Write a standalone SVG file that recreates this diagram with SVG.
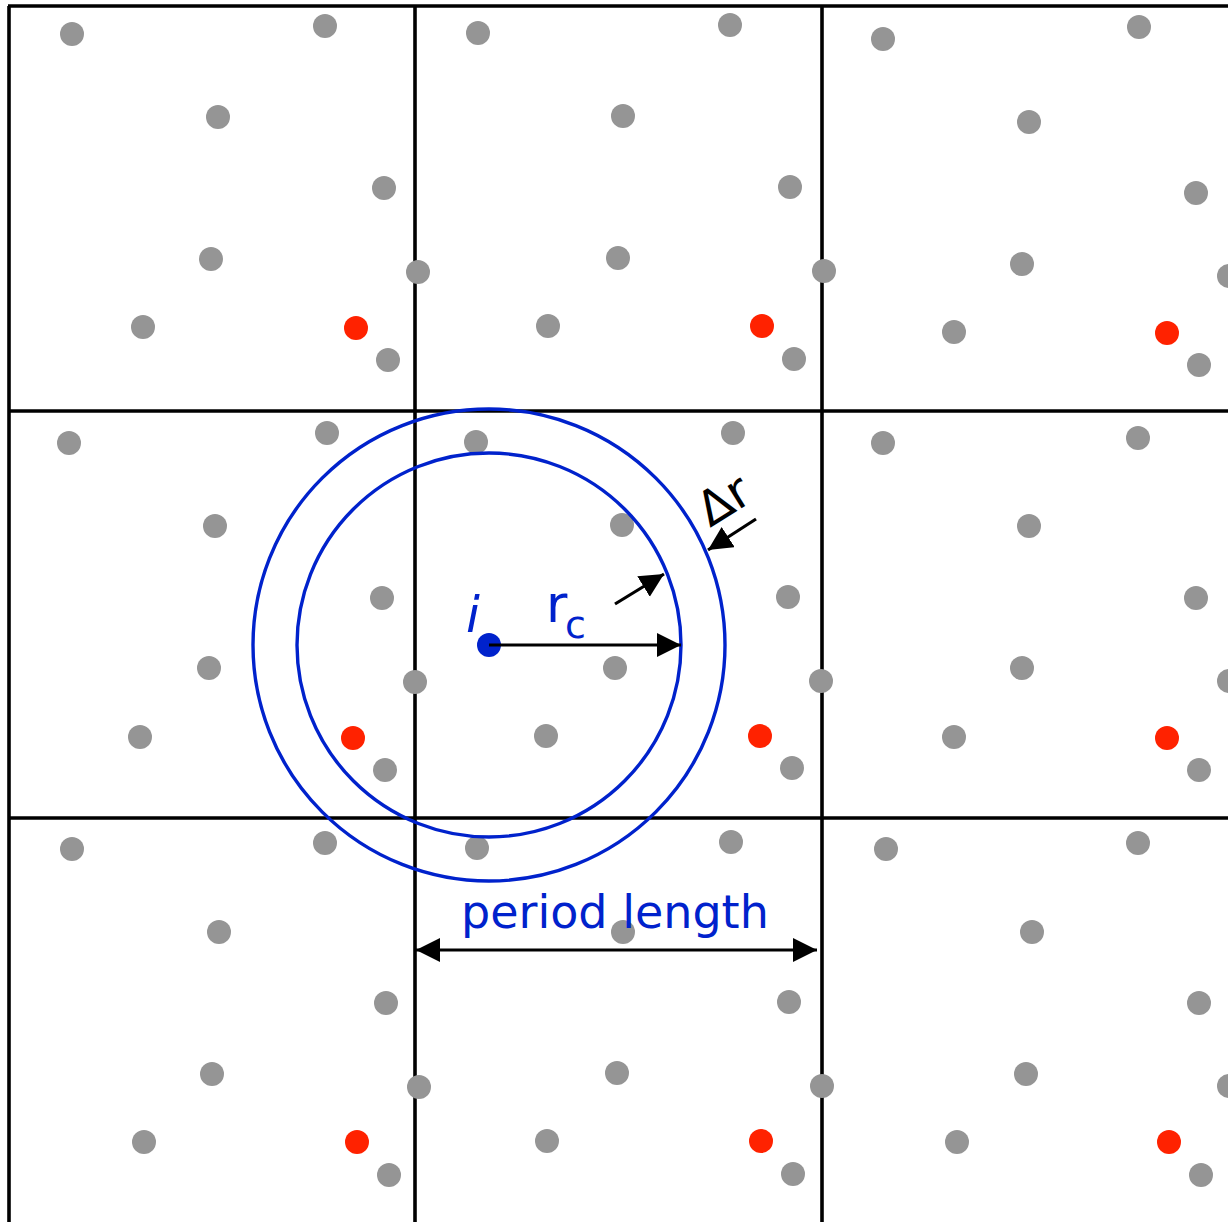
<svg xmlns="http://www.w3.org/2000/svg" width="1228" height="1222" viewBox="0 0 1228 1222">
<style>
.g{fill:#959595}
.r{fill:#ff2200}
.grid{stroke:#000;stroke-width:3.6;fill:none}
.circ{stroke:#0022cc;stroke-width:3.4;fill:none}
.arr{stroke:#000;stroke-width:3.2;fill:none}
.lbl{font-family:"DejaVu Sans",sans-serif;fill:#0022cc}
</style>
<defs>
<marker id="ah" markerUnits="userSpaceOnUse" markerWidth="26" markerHeight="26" refX="24" refY="12" orient="auto-start-reverse">
<path d="M0,0 L24,12 L0,24 z" fill="#000"/>
</marker>
</defs>
<rect width="1228" height="1222" fill="#fff"/>
<g id="grid">
<line class="grid" x1="8" y1="6" x2="1228" y2="6"/>
<line class="grid" x1="8" y1="411" x2="1228" y2="411"/>
<line class="grid" x1="8" y1="818" x2="1228" y2="818"/>
<line class="grid" x1="9" y1="6" x2="9" y2="1222"/>
<line class="grid" x1="415" y1="6" x2="415" y2="1222"/>
<line class="grid" x1="822" y1="6" x2="822" y2="1222"/>
</g>
<g id="particles">
<circle class="g" cx="72" cy="34" r="12"/><circle class="g" cx="325" cy="26" r="12"/><circle class="g" cx="218" cy="117" r="12"/><circle class="g" cx="384" cy="188" r="12"/><circle class="g" cx="211" cy="259" r="12"/><circle class="g" cx="418" cy="272" r="12"/><circle class="g" cx="143" cy="327" r="12"/><circle class="r" cx="356" cy="328" r="12"/><circle class="g" cx="388" cy="360" r="12"/>
<circle class="g" cx="478" cy="33" r="12"/><circle class="g" cx="730" cy="25" r="12"/><circle class="g" cx="623" cy="116" r="12"/><circle class="g" cx="790" cy="187" r="12"/><circle class="g" cx="618" cy="258" r="12"/><circle class="g" cx="824" cy="271" r="12"/><circle class="g" cx="548" cy="326" r="12"/><circle class="r" cx="762" cy="326" r="12"/><circle class="g" cx="794" cy="359" r="12"/>
<circle class="g" cx="883" cy="39" r="12"/><circle class="g" cx="1139" cy="27" r="12"/><circle class="g" cx="1029" cy="122" r="12"/><circle class="g" cx="1196" cy="193" r="12"/><circle class="g" cx="1022" cy="264" r="12"/><circle class="g" cx="1229" cy="276" r="12"/><circle class="g" cx="954" cy="332" r="12"/><circle class="r" cx="1167" cy="333" r="12"/><circle class="g" cx="1199" cy="365" r="12"/>
<circle class="g" cx="69" cy="443" r="12"/><circle class="g" cx="327" cy="433" r="12"/><circle class="g" cx="215" cy="526" r="12"/><circle class="g" cx="382" cy="598" r="12"/><circle class="g" cx="209" cy="668" r="12"/><circle class="g" cx="415" cy="682" r="12"/><circle class="g" cx="140" cy="737" r="12"/><circle class="r" cx="353" cy="738" r="12"/><circle class="g" cx="385" cy="770" r="12"/>
<circle class="g" cx="476" cy="442" r="12"/><circle class="g" cx="733" cy="433" r="12"/><circle class="g" cx="622" cy="525" r="12"/><circle class="g" cx="788" cy="597" r="12"/><circle class="g" cx="615" cy="668" r="12"/><circle class="g" cx="821" cy="681" r="12"/><circle class="g" cx="546" cy="736" r="12"/><circle class="r" cx="760" cy="736" r="12"/><circle class="g" cx="792" cy="768" r="12"/>
<circle class="g" cx="883" cy="443" r="12"/><circle class="g" cx="1138" cy="438" r="12"/><circle class="g" cx="1029" cy="526" r="12"/><circle class="g" cx="1196" cy="598" r="12"/><circle class="g" cx="1022" cy="668" r="12"/><circle class="g" cx="1229" cy="681" r="12"/><circle class="g" cx="954" cy="737" r="12"/><circle class="r" cx="1167" cy="738" r="12"/><circle class="g" cx="1199" cy="770" r="12"/>
<circle class="g" cx="72" cy="849" r="12"/><circle class="g" cx="325" cy="843" r="12"/><circle class="g" cx="219" cy="932" r="12"/><circle class="g" cx="386" cy="1003" r="12"/><circle class="g" cx="212" cy="1074" r="12"/><circle class="g" cx="419" cy="1087" r="12"/><circle class="g" cx="144" cy="1142" r="12"/><circle class="r" cx="357" cy="1142" r="12"/><circle class="g" cx="389" cy="1175" r="12"/>
<circle class="g" cx="477" cy="848" r="12"/><circle class="g" cx="731" cy="842" r="12"/><circle class="g" cx="623" cy="932" r="12"/><circle class="g" cx="789" cy="1002" r="12"/><circle class="g" cx="617" cy="1073" r="12"/><circle class="g" cx="822" cy="1086" r="12"/><circle class="g" cx="547" cy="1141" r="12"/><circle class="r" cx="761" cy="1141" r="12"/><circle class="g" cx="793" cy="1174" r="12"/>
<circle class="g" cx="886" cy="849" r="12"/><circle class="g" cx="1138" cy="843" r="12"/><circle class="g" cx="1032" cy="932" r="12"/><circle class="g" cx="1199" cy="1003" r="12"/><circle class="g" cx="1026" cy="1074" r="12"/><circle class="g" cx="1229" cy="1086" r="12"/><circle class="g" cx="957" cy="1142" r="12"/><circle class="r" cx="1169" cy="1142" r="12"/><circle class="g" cx="1201" cy="1175" r="12"/>
</g>
<g id="cutoff">
<circle class="circ" cx="489" cy="645" r="192"/>
<circle class="circ" cx="489" cy="645" r="236"/>
</g>
<g id="particle-i">
<circle cx="489" cy="645" r="12" fill="#0022cc"/>
<text class="lbl" x="466" y="632" font-size="50" font-style="italic">i</text>
</g>
<g id="connectors">
<line class="arr" x1="489" y1="645" x2="681" y2="645" marker-end="url(#ah)"/>
<line class="arr" x1="615" y1="604" x2="664" y2="574" marker-end="url(#ah)"/>
<line class="arr" x1="756" y1="519" x2="708" y2="550" marker-end="url(#ah)"/>
<line class="arr" x1="416" y1="950" x2="817" y2="950" marker-start="url(#ah)" marker-end="url(#ah)"/>
</g>
<g id="labels">
<text class="lbl" x="546" y="622" font-size="52">r</text>
<text class="lbl" x="565" y="638" font-size="38">c</text>
<text x="0" y="0" font-size="48" font-family="DejaVu Sans,sans-serif" fill="#000" transform="translate(710,528) rotate(-32)">Δr</text>
<text class="lbl" x="461" y="928" font-size="46">period length</text>
</g>
</svg>
